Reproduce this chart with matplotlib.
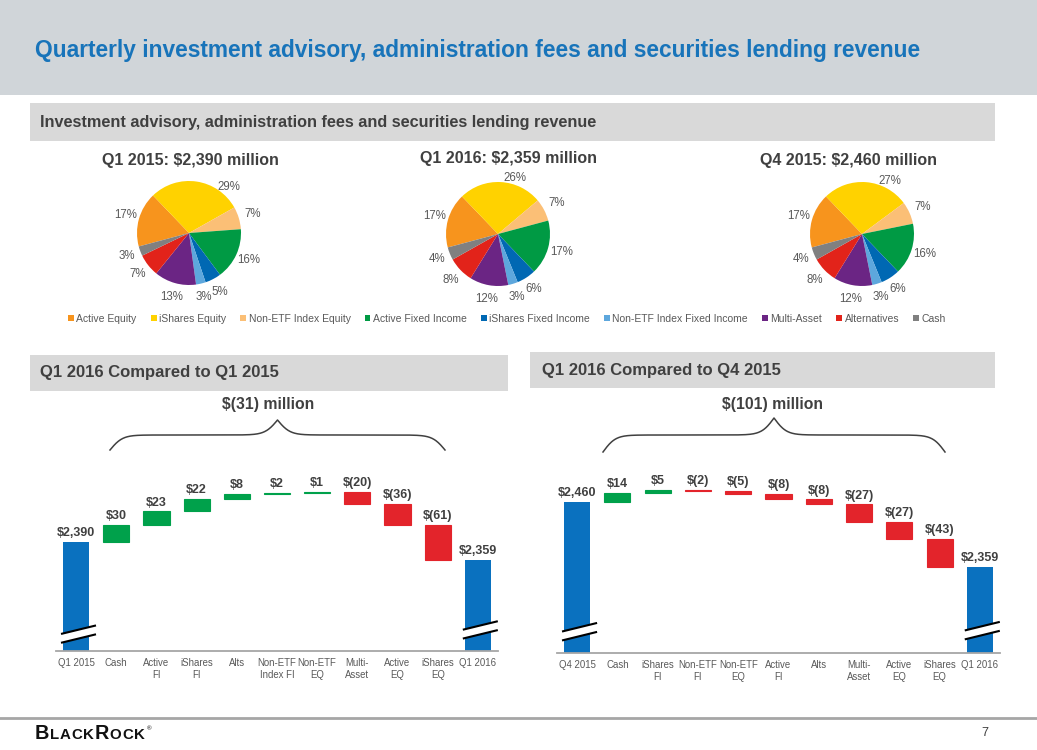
import numpy as np
import matplotlib
matplotlib.use("Agg")
import matplotlib.pyplot as plt
from matplotlib import transforms
from matplotlib.patches import Rectangle, Polygon
from matplotlib import font_manager as fm

# ---- data ----
pie_titles = ["Q1 2015: $2,390 million", "Q1 2016: $2,359 million", "Q4 2015: $2,460 million"]
categories = ["Active Equity", "iShares Equity", "Non-ETF Index Equity", "Active Fixed Income",
              "iShares Fixed Income", "Non-ETF Index Fixed Income", "Multi-Asset", "Alternatives", "Cash"]
share_q1_2015 = [17, 29, 7, 16, 5, 3, 13, 7, 3]
share_q1_2016 = [17, 26, 7, 17, 6, 3, 12, 8, 4]
share_q4_2015 = [17, 27, 7, 16, 6, 3, 12, 8, 4]
pie_colors = ["#F7941D", "#FFD200", "#FBBF76", "#009A44", "#0068B3",
              "#5DA7DD", "#6B2584", "#E2231A", "#808080"]

wf1_labels = ["Q1 2015", "Cash", "Active\nFI", "iShares\nFI", "Alts", "Non-ETF\nIndex FI",
              "Non-ETF\nEQ", "Multi-\nAsset", "Active\nEQ", "iShares\nEQ", "Q1 2016"]
wf1_start = 2390
wf1_deltas = [30, 23, 22, 8, 2, 1, -20, -36, -61]
wf1_end = 2359

wf2_labels = ["Q4 2015", "Cash", "iShares\nFI", "Non-ETF\nFI", "Non-ETF\nEQ", "Active\nFI",
              "Alts", "Multi-\nAsset", "Active\nEQ", "iShares\nEQ", "Q1 2016"]
wf2_start = 2460
wf2_deltas = [14, 5, -2, -5, -8, -8, -27, -27, -43]
wf2_end = 2359

names = {f.name for f in fm.fontManager.ttflist}
base = "Liberation Sans" if "Liberation Sans" in names else "DejaVu Sans"
plt.rcParams["font.family"] = base

W, H = 1037, 750
fig = plt.figure(figsize=(W / 100, H / 100), dpi=100)
fig.patch.set_facecolor("white")

# full-figure pixel axes for decorations
bg = fig.add_axes([0, 0, 1, 1], zorder=0)
bg.set_xlim(0, W)
bg.set_ylim(H, 0)
bg.axis("off")

dark = "#404040"
grey_txt = "#595959"

bg.add_patch(Rectangle((0, 0), W, 95, color="#D0D5D9", lw=0))
bg.text(35, 50, "Quarterly investment advisory, administration fees and securities lending revenue",
        color="#1874BA", fontsize=16.4, fontweight="bold", va="center", ha="left")

bg.add_patch(Rectangle((30, 103), 965, 38, color="#D9D9D9", lw=0))
bg.text(40, 122, "Investment advisory, administration fees and securities lending revenue",
        color=dark, fontsize=11.7, fontweight="bold", va="center")

bg.add_patch(Rectangle((30, 355), 478, 36, color="#D9D9D9", lw=0))
bg.text(40, 373, "Q1 2016 Compared to Q1 2015", color=dark, fontsize=12, fontweight="bold", va="center")
bg.add_patch(Rectangle((530, 352), 465, 36, color="#D9D9D9", lw=0))
bg.text(542, 370, "Q1 2016 Compared to Q4 2015", color=dark, fontsize=12, fontweight="bold", va="center")

bg.text(268, 405, "$(31) million", color=dark, fontsize=11.3, fontweight="bold", ha="center", va="center")
bg.text(773, 404, "$(101) million", color=dark, fontsize=11.3, fontweight="bold", ha="center", va="center")


def brace(ax, x0, x1, y_end, y_tip, beta=0.16):
    n = 300
    xs = np.linspace(x0, x1, 2 * n + 1)
    xh = xs[:n + 1]
    yh = 1 / (1 + np.exp(-beta * (xh - xh[0]))) + 1 / (1 + np.exp(-beta * (xh - xh[-1])))
    y = np.concatenate([yh, yh[-2::-1]])
    y = (y - y.min()) / (y.max() - y.min())
    ax.plot(xs, y_end - y * (y_end - y_tip), color=dark, lw=1.1)


brace(bg, 110, 445, 450, 420)
brace(bg, 603, 945, 452, 418)

# footer
bg.plot([0, W], [718, 718], color="#A6A6A6", lw=2)
bg.text(985, 733, "7", fontsize=9, color=dark, ha="center", va="center")

fig.canvas.draw()
rend = fig.canvas.get_renderer()
x = 35
for word in ["BLACK", "ROCK"]:
    for k, ch in enumerate(word):
        size = 14.3 if k == 0 else 10.8
        t = bg.text(x, 739, ch, fontsize=size, color="#111111", va="baseline", ha="left",
                    fontweight="bold")
        x += t.get_window_extent(rend).width + 0.7
bg.text(x + 1.5, 730, "®", fontsize=4.5, color="black", va="baseline", ha="left")

# ---- pies ----
pie_data = [share_q1_2015, share_q1_2016, share_q4_2015]
pie_centers = [(189, 233), (498, 234), (862, 234)]
title_pos = [(190, 161), (508, 159), (848, 161)]
top_label_shift = [(-33, 1.17), (-14, 1.13), (-23, 1.15)]  # label placement for the top slice
radius_px = 52
wedges0 = None
for vals, (cx, cy), ttl, (tx, ty), (dang, rr) in zip(pie_data, pie_centers, pie_titles,
                                                      title_pos, top_label_shift):
    s = 3.4 * radius_px
    ax = fig.add_axes([(cx - s / 2) / W, 1 - (cy + s / 2) / H, s / W, s / H])
    wedges, _, autotexts = ax.pie(vals, colors=pie_colors, startangle=195, counterclock=False,
                                  autopct="%1.0f%%", pctdistance=1.27,
                                  textprops=dict(color=grey_txt, fontsize=8.3))
    wy = wedges[1]
    ang = np.deg2rad((wy.theta1 + wy.theta2) / 2 + dang)
    autotexts[1].set_position((rr * np.cos(ang), rr * np.sin(ang)))
    ax.set_xlim(-1.7, 1.7)
    ax.set_ylim(-1.7, 1.7)
    ax.set_aspect("equal")
    ax.axis("off")
    if wedges0 is None:
        wedges0 = wedges
    bg.text(tx, ty, ttl, color=dark, fontsize=11.5, fontweight="bold", ha="center", va="center")

fig.legend(wedges0, categories, loc="center", bbox_to_anchor=(507 / W, 1 - 319 / H), ncol=9,
           frameon=False, fontsize=7.5, handlelength=0.55, handleheight=0.55, handletextpad=0.25,
           columnspacing=1.35, labelcolor=grey_txt)


# ---- waterfalls ----
def waterfall(rect, ylim, labels, start, deltas, end, breaks):
    ax = fig.add_axes(rect)
    ax.patch.set_alpha(0)
    n = len(labels)
    ax.set_xlim(-0.5, n - 0.5)
    ax.set_ylim(*ylim)
    bw = 0.65
    blue, green, red = "#0A71BF", "#00A14B", "#E3242B"
    lab_kw = dict(xytext=(0, 2), textcoords="offset points", ha="center", va="bottom",
                  fontsize=9, fontweight="bold", color=dark)
    ax.bar(0, start, width=bw, color=blue)
    ax.bar(n - 1, end, width=bw, color=blue)
    ax.annotate(f"${start:,}", (0, start), **lab_kw)
    ax.annotate(f"${end:,}", (n - 1, end), **lab_kw)
    cum = start
    for i, d in enumerate(deltas, start=1):
        c = green if d > 0 else red
        ax.bar(i, d, bottom=cum, width=bw, color=c, edgecolor=c, lw=0.8)
        top = max(cum, cum + d)
        lab = f"${d}" if d > 0 else f"$({-d})"
        ax.annotate(lab, (i, top), **lab_kw)
        cum += d
    tr = transforms.blended_transform_factory(ax.transData, ax.transAxes)
    g, r = 0.021, 0.019
    for i, c in zip([0, n - 1], breaks):
        x0, x1 = i - 0.35, i + 0.47
        ax.add_patch(Polygon([(x0, c - g - r), (x1, c - g + r), (x1, c + g + r), (x0, c + g - r)],
                             closed=True, transform=tr, color="white", lw=0, zorder=3, clip_on=False))
        ax.plot([x0, x1], [c - g - r, c - g + r], transform=tr, color="black", lw=1.5, zorder=4, clip_on=False)
        ax.plot([x0, x1], [c + g - r, c + g + r], transform=tr, color="black", lw=1.5, zorder=4, clip_on=False)
    for sp in ["top", "left", "right"]:
        ax.spines[sp].set_visible(False)
    ax.spines["bottom"].set_color("#A6A6A6")
    ax.spines["bottom"].set_linewidth(1.3)
    ax.spines["bottom"].set_zorder(5)
    ax.set_yticks([])
    ax.set_xticks(range(n))
    ax.set_xticklabels(labels, fontsize=6.9, color=grey_txt, linespacing=1.25)
    ax.tick_params(axis="x", length=0, pad=5)


waterfall([56 / W, 1 - 651 / H, 442 / W, 211 / H], (2202, 2566),
          wf1_labels, wf1_start, wf1_deltas, wf1_end, [0.08, 0.10])
waterfall([557 / W, 1 - 653 / H, 443 / W, 213 / H], (2225.5, 2556),
          wf2_labels, wf2_start, wf2_deltas, wf2_end, [0.10, 0.105])

fig.savefig("out.png", dpi=100)
